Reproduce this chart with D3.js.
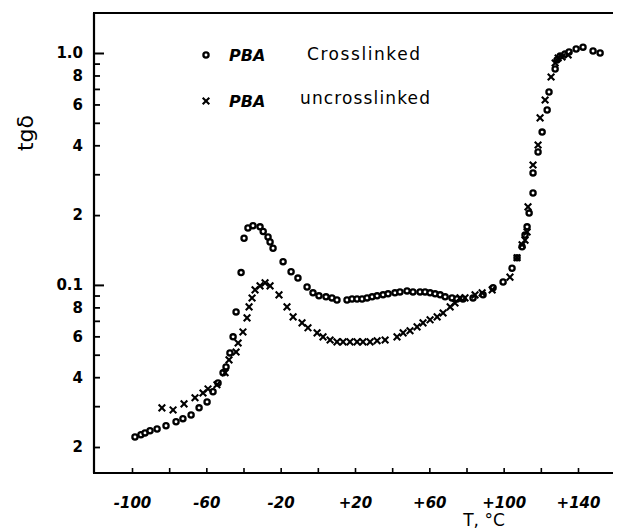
<!DOCTYPE html>
<html>
<head>
<meta charset="utf-8">
<script src="https://cdn.jsdelivr.net/npm/d3@7"></script>
<style>
  html, body { margin: 0; padding: 0; background: #fff; }
  svg { display: block; }
  text { fill: #000; }
</style>
</head>
<body>
<svg id="chart" width="618" height="529"></svg>
<script>
// ---- Data ----
const crosslinkedT = [-98.4, -95.2, -93.0, -90.3, -86.5, -81.7, -76.3, -72.6, -68.2, -63.9, -59.6, -56.4, -53.7, -51.0, -49.4, -47.3, -45.6, -44.0, -41.3, -39.7, -37.6, -34.9, -31.1, -29.4, -26.8, -25.7, -24.1, -18.7, -14.4, -10.7, -5.8, -2.6, 0.6, 4.4, 7.6, 10.3, 15.7, 18.4, 21.1, 23.8, 26.5, 29.2, 31.9, 35.1, 37.8, 41.5, 44.2, 48.0, 51.2, 55.0, 57.7, 60.4, 63.1, 65.8, 68.5, 72.2, 74.9, 78.1, 83.5, 88.9, 94.3, 99.7, 104.5, 107.2, 109.9, 111.5, 112.6, 113.7, 115.8, 115.8, 118.5, 120.7, 123.4, 124.4, 127.7, 128.7, 130.4, 133.0, 135.2, 139.0, 142.7, 148.1, 151.9];
const crosslinkedTan = [0.0221, 0.0226, 0.0230, 0.0235, 0.0239, 0.0247, 0.0257, 0.0265, 0.0275, 0.0295, 0.0313, 0.0346, 0.0378, 0.0418, 0.0443, 0.0509, 0.0597, 0.0765, 0.113, 0.159, 0.176, 0.180, 0.178, 0.170, 0.161, 0.153, 0.144, 0.126, 0.114, 0.107, 0.098, 0.0924, 0.0897, 0.0888, 0.0879, 0.0861, 0.0861, 0.0870, 0.0870, 0.0870, 0.0879, 0.0888, 0.0897, 0.0906, 0.0915, 0.0924, 0.0933, 0.0942, 0.0933, 0.0933, 0.0933, 0.0924, 0.0915, 0.0906, 0.0888, 0.0879, 0.0870, 0.0870, 0.0879, 0.0906, 0.0971, 0.103, 0.118, 0.131, 0.146, 0.164, 0.178, 0.204, 0.249, 0.304, 0.374, 0.456, 0.568, 0.679, 0.853, 0.933, 0.970, 0.990, 1.01, 1.04, 1.06, 1.02, 1.00];

const uncrosslinkedT = [-83.9, -77.9, -72.0, -66.1, -61.8, -59.1, -54.3, -49.9, -47.8, -44.0, -42.9, -40.3, -38.1, -37.0, -35.4, -33.8, -31.1, -28.4, -25.7, -20.9, -16.6, -13.3, -8.5, -5.3, -0.4, 2.8, 6.6, 10.3, 13.6, 17.3, 21.1, 24.3, 28.1, 31.9, 36.2, 42.6, 45.9, 49.6, 53.4, 56.6, 60.4, 64.2, 67.4, 71.2, 73.8, 76.5, 79.2, 84.6, 88.4, 93.8, 103.4, 107.2, 109.9, 111.5, 112.6, 113.1, 115.8, 118.5, 119.6, 122.3, 125.5, 127.7, 129.3, 131.4, 134.7];
const uncrosslinkedTan = [0.0295, 0.0289, 0.0307, 0.0326, 0.0342, 0.0356, 0.0371, 0.0418, 0.0475, 0.0514, 0.0562, 0.0627, 0.0721, 0.0804, 0.0878, 0.0952, 0.0990, 0.102, 0.099, 0.0906, 0.0804, 0.0728, 0.0686, 0.0653, 0.0621, 0.0597, 0.0579, 0.0568, 0.0568, 0.0568, 0.0568, 0.0568, 0.0568, 0.0574, 0.0579, 0.0597, 0.0621, 0.0634, 0.0659, 0.0686, 0.0707, 0.0728, 0.0757, 0.0804, 0.0836, 0.0879, 0.0879, 0.0906, 0.0924, 0.0952, 0.108, 0.131, 0.149, 0.156, 0.169, 0.217, 0.329, 0.401, 0.525, 0.627, 0.788, 0.905, 0.952, 0.961, 0.980];

const xTickValues = [-100, -80, -60, -40, -20, 0, 20, 40, 60, 80, 100, 120, 140];
const xLabelValues = [-100, -60, -20, 20, 60, 100, 140];
const xLabelTexts = ["-100", "-60", "-20", "+20", "+60", "+100", "+140"];

const yMinorTicks = [0.02, 0.03, 0.04, 0.05, 0.06, 0.07, 0.08, 0.09, 0.2, 0.3, 0.4, 0.5, 0.6, 0.7, 0.8, 0.9];
const yMajorTicks = [0.1, 1.0];
const yLabelValues = [0.02, 0.04, 0.06, 0.08, 0.1, 0.2, 0.4, 0.6, 0.8, 1.0];
const yLabelTexts = ["2", "4", "6", "8", "0.1", "2", "4", "6", "8", "1.0"];

const seriesNames = ["PBA", "PBA"];
const seriesLabels = ["Crosslinked", "uncrosslinked"];
const xTitle = "T,  °C";
const yTitle = "tgδ";

// ---- Layout ----
const svg = d3.select("#chart");
const axisLeftX = 94, axisBottomY = 473, frameTopY = 13, frameRightX = 613;

const x = d3.scaleLinear().domain([-100, 140]).range([132, 578]);
const y = d3.scaleLog().domain([0.02, 1.0]).range([447, 53]);

const handFont = "'DejaVu Sans', sans-serif";

// Frame lines
svg.append("line").attr("x1", axisLeftX).attr("x2", axisLeftX).attr("y1", frameTopY).attr("y2", axisBottomY)
  .attr("stroke", "#000").attr("stroke-width", 2.2);
svg.append("line").attr("x1", axisLeftX - 1).attr("x2", frameRightX).attr("y1", axisBottomY).attr("y2", axisBottomY)
  .attr("stroke", "#000").attr("stroke-width", 2.2);
svg.append("line").attr("x1", axisLeftX - 1).attr("x2", frameRightX).attr("y1", frameTopY).attr("y2", frameTopY)
  .attr("stroke", "#000").attr("stroke-width", 1.8);

// X axis ticks (inward)
const xAxis = d3.axisTop(x).tickValues(xTickValues).tickSize(5).tickFormat("");
const gx = svg.append("g").attr("transform", `translate(0,${axisBottomY})`).call(xAxis);
gx.select(".domain").remove();
gx.selectAll(".tick line").attr("stroke", "#000").attr("stroke-width", 1.6);

// X labels
const gxl = svg.append("g").attr("transform", `translate(0,${axisBottomY})`)
  .call(d3.axisBottom(x).tickValues(xLabelValues).tickSize(0).tickPadding(24)
    .tickFormat((d, i) => xLabelTexts[i]));
gxl.select(".domain").remove();
gxl.selectAll(".tick text").attr("font-family", handFont).attr("font-style", "italic")
  .attr("font-weight", "bold").attr("font-size", 15).attr("fill", "#000");

// Y axis ticks (inward)
const gyMinor = svg.append("g").attr("transform", `translate(${axisLeftX},0)`)
  .call(d3.axisRight(y).tickValues(yMinorTicks).tickSize(6).tickFormat(""));
gyMinor.select(".domain").remove();
gyMinor.selectAll(".tick line").attr("stroke", "#000").attr("stroke-width", 1.8);
const gyMajor = svg.append("g").attr("transform", `translate(${axisLeftX},0)`)
  .call(d3.axisRight(y).tickValues(yMajorTicks).tickSize(10).tickFormat(""));
gyMajor.select(".domain").remove();
gyMajor.selectAll(".tick line").attr("stroke", "#000").attr("stroke-width", 2);

// Y labels
const gyl = svg.append("g").attr("transform", `translate(${axisLeftX},0)`)
  .call(d3.axisLeft(y).tickValues(yLabelValues).tickSize(0).tickPadding(11)
    .tickFormat((d, i) => yLabelTexts[i]));
gyl.select(".domain").remove();
gyl.selectAll(".tick text").attr("font-family", handFont).attr("font-weight", "bold")
  .attr("font-size", 15).attr("fill", "#000");

// Axis titles
svg.append("text").attr("transform", "translate(33,133) rotate(-90)")
  .attr("text-anchor", "middle").attr("font-family", handFont).attr("font-size", 22)
  .text(yTitle);
svg.append("text").attr("x", 484).attr("y", 526).attr("text-anchor", "middle")
  .attr("font-family", handFont).attr("font-size", 17).text(xTitle);

// Markers
function drawCircle(g, cx, cy) {
  g.append("circle").attr("cx", cx).attr("cy", cy).attr("r", 2.6)
    .attr("fill", "#fff").attr("stroke", "#000").attr("stroke-width", 2.3);
}
function drawCross(g, cx, cy) {
  const s = 3.3;
  g.append("path").attr("d", `M${cx - s},${cy - s}L${cx + s},${cy + s}M${cx - s},${cy + s}L${cx + s},${cy - s}`)
    .attr("stroke", "#000").attr("stroke-width", 2.1).attr("fill", "none");
}

const gC = svg.append("g");
crosslinkedT.forEach((t, i) => drawCircle(gC, x(t), y(crosslinkedTan[i])));
const gU = svg.append("g");
uncrosslinkedT.forEach((t, i) => drawCross(gU, x(t), y(uncrosslinkedTan[i])));

// Legend
const legend = svg.append("g");
drawCircle(legend, 206, 55);
legend.append("text").attr("x", 229).attr("y", 61).attr("font-family", handFont).attr("font-style", "italic")
  .attr("font-weight", "bold").attr("font-size", 16).text(seriesNames[0]);
legend.append("text").attr("x", 307).attr("y", 60).attr("font-family", handFont)
  .attr("font-size", 17).attr("textLength", 113).text(seriesLabels[0]);
drawCross(legend, 206, 101);
legend.append("text").attr("x", 229).attr("y", 107).attr("font-family", handFont).attr("font-style", "italic")
  .attr("font-weight", "bold").attr("font-size", 16).text(seriesNames[1]);
legend.append("text").attr("x", 300).attr("y", 104).attr("font-family", handFont)
  .attr("font-size", 17).attr("textLength", 130).text(seriesLabels[1]);
</script>
</body>
</html>
